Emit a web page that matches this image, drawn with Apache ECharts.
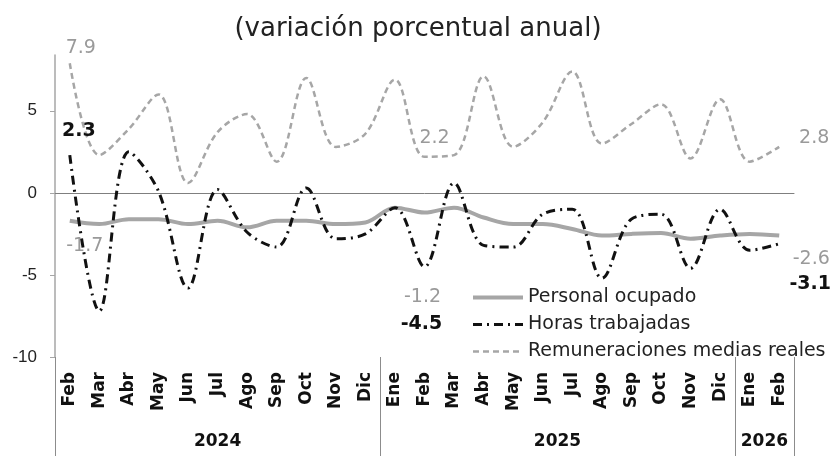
<!DOCTYPE html>
<html><head><meta charset="utf-8">
<script src="https://cdn.jsdelivr.net/npm/echarts@6/dist/echarts.min.js"></script>
<style>html,body{margin:0;padding:0;background:#fff}#c{width:836px;height:456px}</style>
</head><body><div id="c"></div>
<script>
const months = ['Feb','Mar','Abr','May','Jun','Jul','Ago','Sep','Oct','Nov','Dic','Ene','Feb','Mar','Abr','May','Jun','Jul','Ago','Sep','Oct','Nov','Dic','Ene','Feb'];
const years = ['2024','2025','2026'];
const monthsPerYear = [11, 12, 2];
const personalOcupado = [-1.7,-1.9,-1.6,-1.6,-1.9,-1.7,-2.1,-1.7,-1.7,-1.9,-1.8,-0.9,-1.2,-0.9,-1.5,-1.9,-1.9,-2.2,-2.6,-2.5,-2.45,-2.8,-2.6,-2.5,-2.6];
const horasTrabajadas = [2.3,-7.2,2.5,0.1,-5.8,0.2,-2.4,-3.3,0.3,-2.8,-2.5,-0.9,-4.5,0.6,-3.2,-3.3,-1.3,-1.0,-5.2,-1.6,-1.3,-4.6,-1.0,-3.5,-3.1];
const remuneraciones = [7.9,2.3,3.9,6.0,0.6,3.7,4.8,1.9,7.0,2.8,3.6,6.9,2.2,2.3,7.1,2.8,4.3,7.4,3.0,4.2,5.4,2.1,5.7,1.9,2.8];
const yTicks = [-10, -5, 0, 5];
const seriesNames = ['Personal ocupado', 'Horas trabajadas', 'Remuneraciones medias reales'];

const FONT = 'DejaVu Sans';
const GRAY = '#a6a6a6';
const LABEL_GRAY = '#9a9a9a';

// year axis built from the month counts: 2 slots per month, boundaries + centres
const yearSlots = [];
const yearBoundaries = new Set();
const yearCenters = {};
{
  let start = 0;
  monthsPerYear.forEach((n, k) => {
    yearBoundaries.add(2 * start);
    yearCenters[2 * start + n] = years[k];
    start += n;
  });
  yearBoundaries.add(2 * start);
  for (let j = 0; j <= 2 * start; j++) yearSlots.push(yearCenters[j] || '');
}

function withLabels(values, specs) {
  return values.map((v, i) => specs[i]
    ? { value: v, symbol: 'circle', symbolSize: 0,
        label: Object.assign({ show: true, position: 'inside', fontFamily: FONT, fontSize: 19 }, specs[i]) }
    : v);
}
const last = months.length - 1;
const mid = 12;
const grayLbl = { color: LABEL_GRAY };
const blackLbl = { color: '#111', fontWeight: 'bold' };
const SMOOTH = 0.35;

const chart = echarts.init(document.getElementById('c'));
chart.setOption({
  animation: false,
  backgroundColor: '#fff',
  title: {
    text: '(variación porcentual anual)',
    left: 'center', top: 11,
    textStyle: { fontFamily: FONT, fontSize: 26, fontWeight: 'normal', color: '#222' }
  },
  grid: { left: 55, right: 42, top: 55, bottom: 99 },
  legend: {
    orient: 'vertical', left: 466, top: 283,
    itemWidth: 50, itemHeight: 12, itemGap: 8,
    data: [
      { name: seriesNames[0], lineStyle: { width: 4 } },
      { name: seriesNames[1], lineStyle: { width: 3 } },
      { name: seriesNames[2], lineStyle: { width: 2.5 } }
    ],
    itemStyle: { opacity: 0 },
    textStyle: { fontFamily: FONT, fontSize: 19, color: '#222' }
  },
  xAxis: [
    {
      type: 'category', data: months, boundaryGap: true, position: 'bottom',
      axisLine: { show: false, onZero: false }, axisTick: { show: false },
      axisLabel: { rotate: 90, margin: 15, interval: 0, fontFamily: FONT, fontSize: 17, fontWeight: 'bold', color: '#111' }
    },
    {
      type: 'category', data: yearSlots, boundaryGap: false, position: 'bottom',
      axisLine: { show: false, onZero: false },
      axisTick: { show: true, length: 100, interval: (i) => yearBoundaries.has(i), lineStyle: { color: '#8c8c8c', width: 1 } },
      axisLabel: { interval: (i) => !!yearCenters[i], margin: 76, fontFamily: FONT, fontSize: 17, fontWeight: 'bold', color: '#111' }
    },
    {
      type: 'category', data: months, boundaryGap: true,
      axisLine: { show: true, onZero: true, lineStyle: { color: '#7f7f7f', width: 1 } },
      axisTick: { show: false }, axisLabel: { show: false }
    }
  ],
  yAxis: {
    type: 'value', min: -10, max: 8.4,
    axisLine: { show: true, lineStyle: { color: GRAY, width: 1.5 } },
    axisTick: { show: true, length: 5, customValues: yTicks, lineStyle: { color: GRAY } },
    axisLabel: { customValues: yTicks, margin: 18, fontFamily: 'Liberation Sans', fontSize: 17, color: '#222' },
    splitLine: { show: false }
  },
  series: [
    {
      name: seriesNames[0], type: 'line', smooth: SMOOTH, symbol: 'none',
      lineStyle: { color: GRAY, width: 4 }, itemStyle: { color: GRAY },
      data: withLabels(personalOcupado, {
        0: Object.assign({ offset: [15, 25] }, grayLbl),
        [mid]: Object.assign({ offset: [-2, 84] }, grayLbl),
        [last]: Object.assign({ offset: [32, 24] }, grayLbl)
      }),
      z: 2
    },
    {
      name: seriesNames[1], type: 'line', smooth: SMOOTH, symbol: 'none',
      lineStyle: { color: '#111', width: 3, type: [9, 5, 2, 5] }, itemStyle: { color: '#111' },
      data: withLabels(horasTrabajadas, {
        0: Object.assign({ offset: [9, -24] }, blackLbl),
        [mid]: Object.assign({ offset: [-3, 57] }, blackLbl),
        [last]: Object.assign({ offset: [31, 40] }, blackLbl)
      }),
      z: 3
    },
    {
      name: seriesNames[2], type: 'line', smooth: SMOOTH, symbol: 'none',
      lineStyle: { color: GRAY, width: 2.5, type: [6, 4] }, itemStyle: { color: GRAY },
      data: withLabels(remuneraciones, {
        0: Object.assign({ offset: [11, -15] }, grayLbl),
        [mid]: Object.assign({ offset: [10, -19] }, grayLbl),
        [last]: Object.assign({ offset: [35, -9] }, grayLbl)
      }),
      z: 2
    }
  ]
});
</script></body></html>
